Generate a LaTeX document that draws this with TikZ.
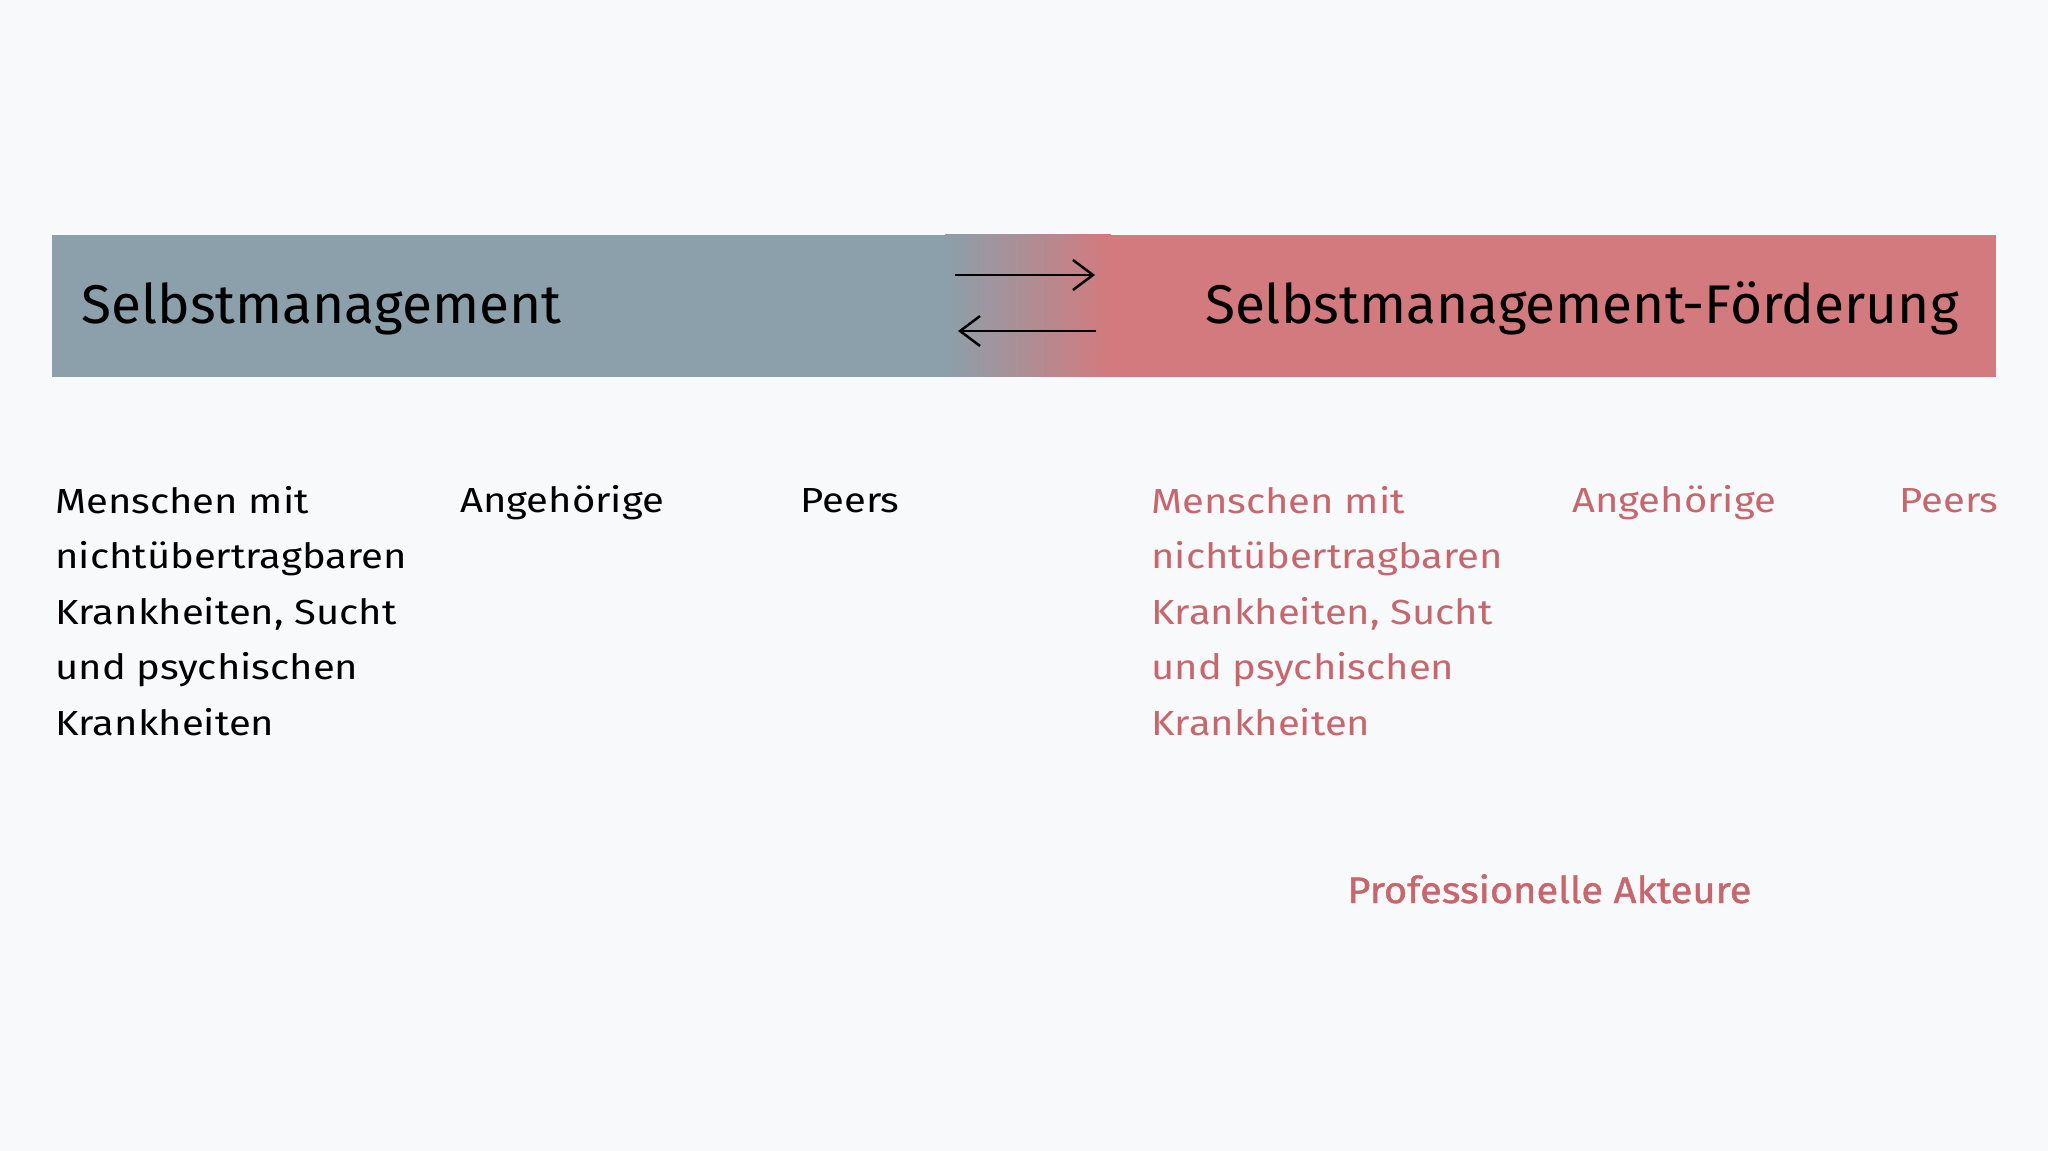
\documentclass[tikz,border=0pt]{standalone}
\usepackage{fontspec}
\setmainfont[FakeStretch=1.01]{Fira Sans}
\newfontfamily\groupfont[FakeStretch=1.15]{Fira Sans}
\newfontfamily\proffont[FakeStretch=1.08, FakeBold=1.3]{Fira Sans}
\usetikzlibrary{arrows.meta}
\definecolor{pagebg}{RGB}{247,249,251}
\definecolor{barblue}{RGB}{139,160,170}
\definecolor{barred}{RGB}{211,122,126}
\definecolor{txtred}{RGB}{200,102,110}

\begin{document}
\begin{tikzpicture} [x=0.02cm, y=-0.02cm, head/.style={font=\fontsize{31}{36}\selectfont, inner sep=0pt}, group/.style={font=\groupfont\fontsize{19.8}{31.5}\selectfont, align=left, inner sep=0pt, anchor=base west}, swap/.style={line width=1.4pt, -{Straight Barb[length=0.4cm, width=0.6cm, line width=1.4pt]}}]
	\useasboundingbox [fill=pagebg] (0,0) rectangle (2048,1151);
	% bar
	\fill [barblue] (52,235) rectangle (946,377);
	\shade [left color=barblue, right color=barred] (945,235) rectangle (1111,377);
	\fill [barred] (1110,235) rectangle (1996,377);
	\node [head, anchor=base west] (self) at (81,324) {Selbstmanagement};
	\node [head, anchor=base east] (promo) at (1959,324) {Selbstmanagement-Förderung};

	% arrows
	\coordinate (fwdA) at (955,275);
	\coordinate (fwdB) at (1095,275);
	\coordinate (backA) at (1096,331);
	\coordinate (backB) at (958,331);
	\draw [swap] (fwdA) -- (fwdB);
	\draw [swap] (backA) -- (backB);

	% groups (base = last line)
	\node [group] (patL) at (55,735) {Menschen mit\\nichtübertragbaren\\Krankheiten, Sucht\\und psychischen\\Krankheiten};
	\node [group] (kinL) at (460,513) {Angehörige};
	\node [group] (peerL) at (800,513) {Peers};
	\node [group, text=txtred] (patR) at (1151,735) {Menschen mit\\nichtübertragbaren\\Krankheiten, Sucht\\und psychischen\\Krankheiten};
	\node [group, text=txtred] (kinR) at (1572,513) {Angehörige};
	\node [group, text=txtred] (peerR) at (1899,513) {Peers};
	\node [group, text=txtred, font=\proffont\fontsize{21}{26}\selectfont] (prof) at (1347,903) {Professionelle Akteure};
\end{tikzpicture}
\end{document}
